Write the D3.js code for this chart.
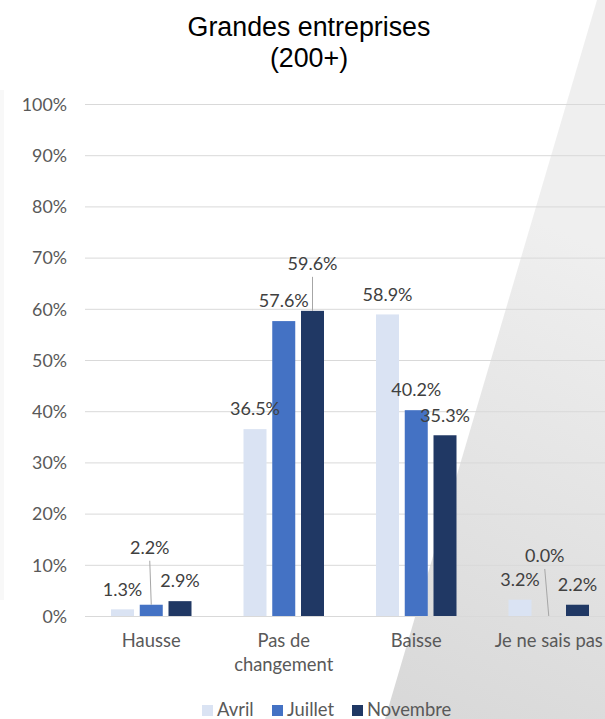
<!DOCTYPE html>
<html>
<head>
<meta charset="utf-8">
<script src="https://cdn.jsdelivr.net/npm/d3@7/dist/d3.min.js"></script>
<style>
  html, body { margin: 0; padding: 0; background: #ffffff; }
  svg { display: block; }
</style>
</head>
<body>
<svg id="chart" width="605" height="719"></svg>
<script>
// ---- data ----
const categories = ["Hausse", "Pas de changement", "Baisse", "Je ne sais pas"];
const series = ["Avril", "Juillet", "Novembre"];
const avril = [0.013, 0.365, 0.589, 0.032];
const juillet = [0.022, 0.576, 0.402, 0.000];
const novembre = [0.029, 0.596, 0.353, 0.022];
const yTicks = [0, 0.1, 0.2, 0.3, 0.4, 0.5, 0.6, 0.7, 0.8, 0.9, 1.0];
const titleLines = ["Grandes entreprises", "(200+)"];
const categoryLines = [["Hausse"], ["Pas de", "changement"], ["Baisse"], ["Je ne sais pas"]];

// ---- styles / layout ----
const colors = { "Avril": "#dae3f3", "Juillet": "#4472c4", "Novembre": "#203864" };
const font = "Lato, 'Open Sans', sans-serif";
const textColor = "#595959";
const labelColor = "#404040";
// labels moved away from their default position, with a leader line
const labelNudge = {
  "Hausse|Juillet": { dx: -1.5, dy: -37 },
  "Pas de changement|Novembre": { dx: 0, dy: -27 },
  "Je ne sais pas|Juillet": { dx: -4, dy: -40 }
};

const values = { "Avril": avril, "Juillet": juillet, "Novembre": novembre };
const svg = d3.select("#chart");
const W = 605, H = 719;

// background decoration
const defs = svg.append("defs");
const grad = defs.append("linearGradient").attr("id", "bgGrad")
  .attr("gradientUnits", "userSpaceOnUse")
  .attr("x1", 400).attr("y1", 719).attr("x2", 605).attr("y2", 250);
grad.append("stop").attr("offset", 0).attr("stop-color", "#d8d8d8");
grad.append("stop").attr("offset", 1).attr("stop-color", "#efefef");
svg.append("polygon")
  .attr("points", "597,0 605,0 605,719 385,719")
  .attr("fill", "url(#bgGrad)");
svg.append("rect").attr("x", 0).attr("y", 90).attr("width", 4).attr("height", 510)
  .attr("fill", "#f8f8f8");

// scales
const x0 = d3.scaleBand().domain(categories).range([85, 615]).padding(0);
const x1 = d3.scaleBand().domain(series)
  .range([26, x0.bandwidth() - 26]).paddingInner(0.2).paddingOuter(0);
const y = d3.scaleLinear().domain([0, 1]).range([616, 104]);

// gridlines + y labels
const yAxis = d3.axisLeft(y).tickValues(yTicks)
  .tickSize(-(W - 85)).tickPadding(18)
  .tickFormat(d3.format(".0%"));
const gy = svg.append("g").attr("transform", "translate(85,0)").call(yAxis);
gy.select(".domain").remove();
gy.selectAll(".tick line").attr("stroke", "#d9d9d9").attr("stroke-width", 1);
gy.selectAll(".tick text")
  .attr("font-family", font).attr("font-size", 17.8).attr("fill", textColor)
  .attr("dy", "0.35em");

// bars
const rows = [];
categories.forEach((c, i) => series.forEach(s => rows.push({ cat: c, ser: s, v: values[s][i] })));

svg.append("g").selectAll("rect").data(rows).join("rect")
  .attr("x", d => x0(d.cat) + x1(d.ser))
  .attr("y", d => y(d.v))
  .attr("width", x1.bandwidth())
  .attr("height", d => y(0) - y(d.v))
  .attr("fill", d => colors[d.ser]);

// data labels
const fmt = d3.format(".1%");
const lab = svg.append("g");
rows.forEach(d => {
  const cx = x0(d.cat) + x1(d.ser) + x1.bandwidth() / 2;
  const top = y(d.v);
  const n = labelNudge[d.cat + "|" + d.ser] || { dx: 0, dy: 0 };
  const lx = cx + n.dx, ly = top - 20 + n.dy;
  lab.append("text")
    .attr("x", lx).attr("y", ly).attr("dy", "0.35em")
    .attr("text-anchor", "middle")
    .attr("font-family", font).attr("font-size", 18).attr("fill", labelColor)
    .text(fmt(d.v));
  if (labelNudge[d.cat + "|" + d.ser]) {
    lab.append("line")
      .attr("x1", lx).attr("y1", ly + 13)
      .attr("x2", cx).attr("y2", top)
      .attr("stroke", "#a6a6a6").attr("stroke-width", 1);
  }
});

// category labels
const gc = svg.append("g");
categories.forEach((c, i) => {
  const t = gc.append("text")
    .attr("text-anchor", "middle")
    .attr("font-family", font).attr("font-size", 18.4).attr("fill", textColor);
  categoryLines[i].forEach((line, j) => {
    t.append("tspan").attr("x", x0(c) + x0.bandwidth() / 2)
      .attr("y", 647 + j * 24).text(line);
  });
});

// title
const tt = svg.append("text").attr("text-anchor", "middle")
  .attr("font-family", "'Liberation Sans', Arial, sans-serif")
  .attr("font-size", 26.8).attr("fill", "#000");
titleLines.forEach((l, j) => tt.append("tspan").attr("x", 309).attr("y", 36 + j * 31).text(l));

// legend
const legendX = [202, 272, 352];
const lg = svg.append("g");
series.forEach((s, i) => {
  lg.append("rect").attr("x", legendX[i]).attr("y", 705).attr("width", 11).attr("height", 11)
    .attr("fill", colors[s]);
  lg.append("text").attr("x", legendX[i] + 15).attr("y", 716)
    .attr("font-family", font).attr("font-size", 18.4).attr("fill", textColor)
    .text(s);
});
</script>
</body>
</html>
